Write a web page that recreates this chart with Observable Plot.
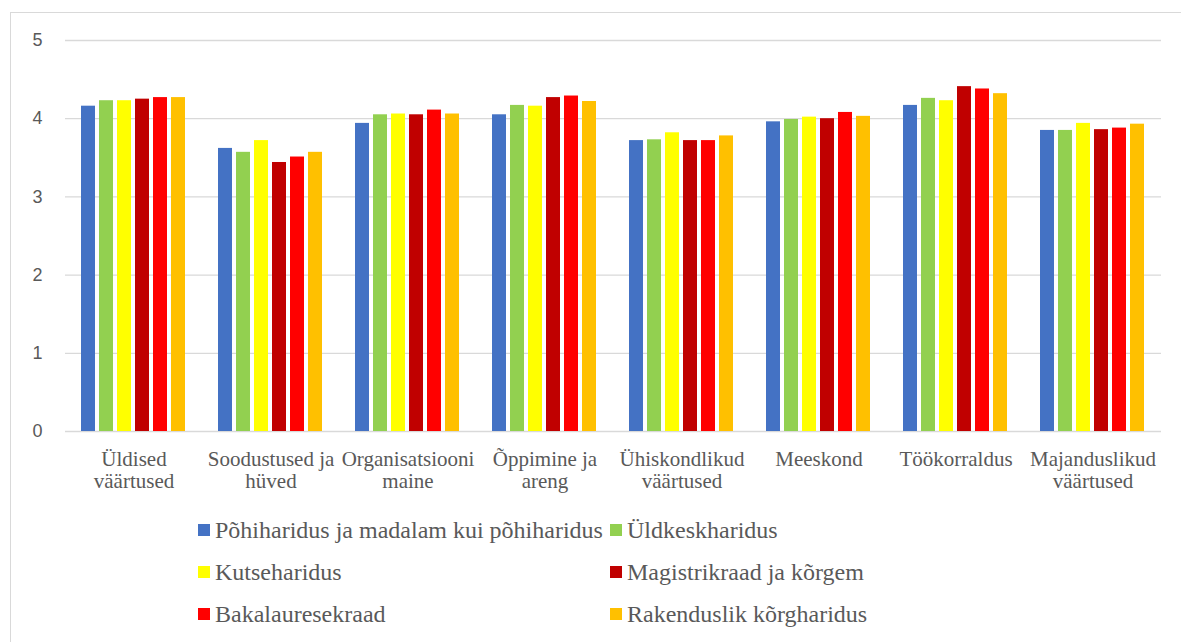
<!DOCTYPE html>
<html>
<head>
<meta charset="utf-8">
<script src="https://cdn.jsdelivr.net/npm/d3@7"></script>
<script src="https://cdn.jsdelivr.net/npm/@observablehq/plot@0.6"></script>
<style>
  html, body { margin: 0; padding: 0; background: #fff; overflow: hidden; }
  #wrap { position: relative; width: 1181px; height: 642px; overflow: hidden; }
  #border { position: absolute; left: 10px; top: 12px; width: 1300px; height: 800px; border: 1px solid #d9d9d9; box-sizing: border-box; }
  #chart { position: absolute; left: 0; top: 0; }
  .lg { position: absolute; font-family: 'Liberation Serif', 'DejaVu Serif', 'Times New Roman', serif; font-size: 24px; line-height: 24px; color: #595959; white-space: nowrap; }
  .sw { position: absolute; width: 12px; height: 12px; }
</style>
</head>
<body>
<div id="wrap">
  <div id="border"></div>
  <div id="chart"></div>
  <div id="legend"></div>
</div>
<script>
const categories = ["Üldised väärtused", "Soodustused ja hüved", "Organisatsiooni maine", "Õppimine ja areng", "Ühiskondlikud väärtused", "Meeskond", "Töökorraldus", "Majanduslikud väärtused"];
const tickLabels = ["Üldised\nväärtused", "Soodustused ja\nhüved", "Organisatsiooni\nmaine", "Õppimine ja\nareng", "Ühiskondlikud\nväärtused", "Meeskond", "Töökorraldus", "Majanduslikud\nväärtused"];
const series = ["Põhiharidus ja madalam kui põhiharidus", "Üldkeskharidus", "Kutseharidus", "Magistrikraad ja kõrgem", "Bakalaureusekraad", "Rakenduslik kõrgharidus"];
const legendLabels = ["Põhiharidus ja madalam kui põhiharidus", "Üldkeskharidus", "Kutseharidus", "Magistrikraad ja kõrgem", "Bakalauresekraad", "Rakenduslik kõrgharidus"];
const colors = ["#4472C4", "#92D050", "#FFFF00", "#C00000", "#FF0000", "#FFC000"];

const pohiharidus   = [4.16, 3.62, 3.94, 4.05, 3.72, 3.96, 4.17, 3.85];
const uldkesk       = [4.23, 3.57, 4.05, 4.17, 3.73, 3.99, 4.26, 3.85];
const kutse         = [4.23, 3.72, 4.06, 4.16, 3.82, 4.02, 4.23, 3.94];
const magistri      = [4.25, 3.44, 4.05, 4.27, 3.72, 4.00, 4.41, 3.86];
const bakalaureuse  = [4.27, 3.51, 4.11, 4.29, 3.72, 4.08, 4.38, 3.88];
const rakenduslik   = [4.27, 3.57, 4.06, 4.22, 3.78, 4.03, 4.32, 3.93];
const yTicks = [0, 1, 2, 3, 4, 5];

const seriesValues = [pohiharidus, uldkesk, kutse, magistri, bakalaureuse, rakenduslik];
const data = [];
categories.forEach((c, i) => {
  series.forEach((s, j) => data.push({category: c, series: s, value: seriesValues[j][i]}));
});

const serif = "'Liberation Serif', 'DejaVu Serif', 'Times New Roman', serif";

const plot = Plot.plot({
  width: 1181,
  height: 500,
  marginLeft: 62,
  marginRight: 17,
  marginTop: 40,
  marginBottom: 69,
  style: {background: "transparent", overflow: "visible"},
  fx: {domain: categories, padding: 0, label: null},
  x: {domain: series, paddingInner: 0.2, paddingOuter: 0.843, axis: null},
  y: {domain: [0, 5], label: null},
  color: {domain: series, range: colors},
  marks: [
    Plot.gridY(yTicks, {stroke: "#d9d9d9", strokeOpacity: 1, strokeWidth: 1.3}),
    Plot.barY(data, {fx: "category", x: "series", y: "value", fill: "series"}),
    Plot.axisY(yTicks, {tickSize: 0, tickPadding: 23, fontSize: 18, fontFamily: "'Liberation Sans', Arial, sans-serif", fill: "#595959", tickFormat: d => String(d)}),
    Plot.axisFx({anchor: "bottom", tickSize: 0, tickPadding: 18, fontSize: 21, lineHeight: 1.08,
      fontFamily: serif, fill: "#595959",
      tickFormat: d => tickLabels[categories.indexOf(d)], label: null})
  ]
});
document.getElementById("chart").appendChild(plot);

const legend = document.getElementById("legend");
const colX = [[198, 215], [610, 627]];
const rowTop = [518, 560, 602];
legendLabels.forEach((lab, k) => {
  const col = k % 2, row = Math.floor(k / 2);
  const sw = document.createElement("div");
  sw.className = "sw";
  sw.style.left = colX[col][0] + "px";
  sw.style.top = (rowTop[row] + 5.5) + "px";
  sw.style.background = colors[k];
  legend.appendChild(sw);
  const t = document.createElement("div");
  t.className = "lg";
  t.style.left = colX[col][1] + "px";
  t.style.top = rowTop[row] + "px";
  t.textContent = lab;
  legend.appendChild(t);
});
</script>
</body>
</html>
